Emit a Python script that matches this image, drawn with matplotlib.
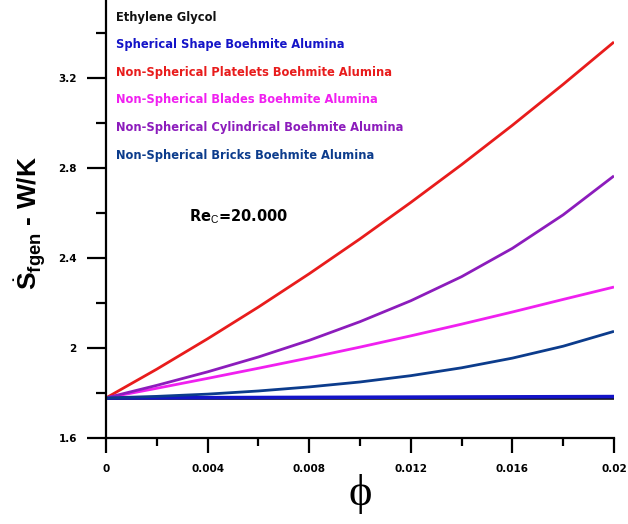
import matplotlib
matplotlib.use("Agg")
import matplotlib.pyplot as plt
from matplotlib.ticker import MultipleLocator

plt.rcParams["font.family"] = ["Liberation Sans", "DejaVu Sans"]
plt.rcParams["mathtext.fontset"] = "custom"
plt.rcParams["mathtext.rm"] = "Liberation Sans"
plt.rcParams["mathtext.bf"] = "Liberation Sans:bold"

W, H = 628, 524

# volume fraction
phi = [0.0, 0.002, 0.004, 0.006, 0.008, 0.010, 0.012, 0.014, 0.016, 0.018, 0.020]

# frictional entropy generation (W/K) for each fluid
s_ethylene = [1.776, 1.776, 1.776, 1.776, 1.776, 1.776, 1.776, 1.776, 1.776, 1.776, 1.776]
s_spherical = [1.778, 1.7786, 1.7792, 1.7798, 1.7804, 1.781, 1.7816, 1.7822, 1.7828, 1.7834, 1.784]
s_platelets = [1.778, 1.906, 2.041, 2.182, 2.330, 2.485, 2.647, 2.815, 2.990, 3.172, 3.360]
s_blades = [1.778, 1.821, 1.865, 1.910, 1.956, 2.004, 2.054, 2.106, 2.160, 2.216, 2.271]
s_cylindrical = [1.778, 1.834, 1.894, 1.960, 2.034, 2.117, 2.210, 2.317, 2.443, 2.592, 2.765]
s_bricks = [1.778, 1.785, 1.795, 1.809, 1.827, 1.849, 1.877, 1.912, 1.955, 2.008, 2.074]

x_ticks = [0, 0.004, 0.008, 0.012, 0.016, 0.02]
x_labels = ["0", "0.004", "0.008", "0.012", "0.016", "0.02"]
y_ticks = [1.6, 2.0, 2.4, 2.8, 3.2]
y_labels = ["1.6", "2", "2.4", "2.8", "3.2"]

series = [
    ("Ethylene Glycol", s_ethylene, "#111111", 2.6),
    ("Spherical Shape Boehmite Alumina", s_spherical, "#1414c8", 2.6),
    ("Non-Spherical Platelets Boehmite Alumina", s_platelets, "#e81c1c", 2.0),
    ("Non-Spherical Blades Boehmite Alumina", s_blades, "#f020f0", 2.0),
    ("Non-Spherical Cylindrical Boehmite Alumina", s_cylindrical, "#8c1cbc", 2.0),
    ("Non-Spherical Bricks Boehmite Alumina", s_bricks, "#0c3c8c", 2.0),
]

fig = plt.figure(figsize=(W / 100, H / 100), dpi=100)
ax = fig.add_axes([106 / W, 86 / H, 508 / W, 438 / H])

for name, vals, color, lw in series:
    ax.plot(phi, vals, color=color, linewidth=lw, solid_capstyle="butt")

ax.set_xlim(0, 0.02)
ax.set_ylim(1.6, 1.6 + 438 / 225)

ax.spines["top"].set_visible(False)
ax.spines["right"].set_visible(False)
for sp in ("left", "bottom"):
    ax.spines[sp].set_linewidth(1.6)

tick_font = dict(family="DejaVu Sans", fontsize=7.5, fontweight="bold")
ax.set_xticks(x_ticks)
ax.set_xticklabels(x_labels, **tick_font)
ax.set_yticks(y_ticks)
ax.set_yticklabels(y_labels, **tick_font)
ax.xaxis.set_minor_locator(MultipleLocator(0.002))
ax.yaxis.set_minor_locator(MultipleLocator(0.2))
ax.tick_params(axis="x", which="major", direction="out", length=11, width=1.6, pad=8)
ax.tick_params(axis="x", which="minor", direction="out", length=6, width=1.6)
ax.tick_params(axis="y", which="major", direction="out", length=14, width=1.6, pad=7)
ax.tick_params(axis="y", which="minor", direction="out", length=7, width=1.6)

# legend drawn as coloured text lines
for i, (name, vals, color, lw) in enumerate(series):
    fig.text(116 / W, 1 - (17 + i * 27.6) / H, name, color=color,
             family="DejaVu Sans", fontsize=8.3, fontweight="bold",
             va="center", ha="left")

ax.text(0.00327, 2.585, r"Re$_{\mathrm{C}}$=20.000", family="DejaVu Sans",
        fontsize=10.5, fontweight="bold", ha="left", va="center")

fig.text(30 / W, 1 - 223 / H, r"$\dot{\mathbf{S}}_{\mathbf{fgen}}$ - W/K",
         rotation=90, fontsize=19, fontweight="bold", ha="center", va="center")
fig.text(360 / W, 1 - 494 / H, "\u03d5", family=["Liberation Serif", "DejaVu Serif"],
         fontsize=32, ha="center", va="center")

fig.savefig("out.png", dpi=100, facecolor="white")
